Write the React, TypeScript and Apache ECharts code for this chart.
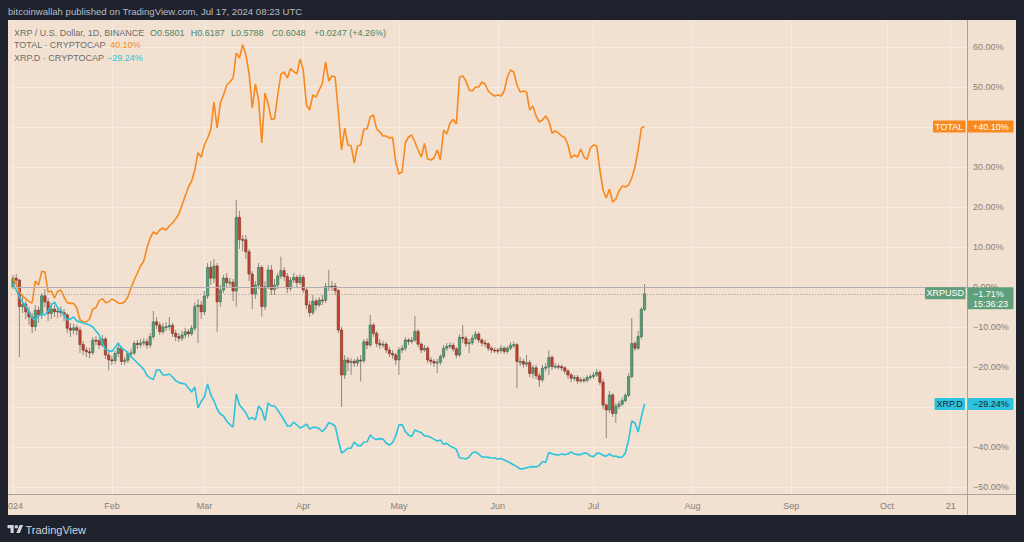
import React, { useEffect, useRef } from 'react';
import * as echarts from 'echarts';

// ---------- texts ----------
const headerText = 'bitcoinwallah published on TradingView.com, Jul 17, 2024 08:23 UTC';
const symbolTitle = 'XRP / U.S. Dollar, 1D, BINANCE';
const ohlcLabels = ['O0.5801', 'H0.6187', 'L0.5788', 'C0.6048', '+0.0247 (+4.26%)'];
const totalTitle = 'TOTAL \u00b7 CRYPTOCAP';
const domTitle = 'XRP.D \u00b7 CRYPTOCAP';
const totalTag = 'TOTAL';
const xrpTag = 'XRPUSD';
const domTag = 'XRP.D';
const countdown = '15:36:23';
const brand = 'TradingView';

// ---------- axes ----------
// day offsets from 2024-01-01
const xTickDays = [0, 31, 60, 91, 121, 152, 182, 213, 244, 274, 294];
const xTickLabels = ['2024', 'Feb', 'Mar', 'Apr', 'May', 'Jun', 'Jul', 'Aug', 'Sep', 'Oct', '21'];
const yTicks = [-50, -40, -30, -20, -10, 0, 10, 20, 30, 40, 50, 60];
// tick labels covered by the price tags on the right scale
const yHiddenLabels = [40, -30];

// ---------- XRPUSD daily candles (% change vs. first bar), Jan 1 -> Jul 17 2024 ----------
const xrpClose = [
  2.2, 1.7, -4.9, -4.3, -6.2, -7.5, -9.9, -5.8, -7.0, -2.2,
  -3.7, -6.6, -5.5, -6.2, -6.0, -6.4, -7.0, -10.3, -10.8, -10.2,
  -10.8, -14.4, -15.8, -16.2, -16.4, -13.3, -13.4, -14.5, -13.0, -17.0,
  -18.2, -18.4, -16.6, -15.3, -18.6, -18.3, -16.6, -16.5, -14.1, -14.4,
  -14.0, -13.7, -14.5, -12.4, -8.7, -9.5, -11.2, -10.0, -9.9, -9.6,
  -11.6, -12.4, -12.8, -12.0, -11.2, -11.7, -10.3, -4.9, -4.5, -6.2,
  -2.25, 4.9, 2.2, 5.25, -3.7, -0.75, 2.2, 1.1, 1.2, -1.0,
  17.4, 11.9, 11.8, 8.8, 3.25, -1.75, 0.5, 4.9, -4.9, 0.1,
  4.25, -0.6, 0.5, 2.75, 4.1, 2.6, -0.3, 1.75, 2.4, 1.1,
  2.4, -0.75, -4.5, -6.4, -3.5, -4.5, -3.25, -3.3, 0.1, 0.1,
  0.25, -0.9, -10.75, -22.0, -18.25, -18.9, -18.6, -19.0, -18.25, -18.4,
  -13.7, -14.5, -9.5, -11.6, -14.1, -14.5, -14.3, -15.75, -16.6, -17.0,
  -18.25, -15.75, -15.3, -13.25, -13.6, -13.25, -11.1, -14.3, -15.75, -15.3,
  -18.25, -18.6, -19.0, -18.8, -17.4, -15.3, -14.9, -14.6, -15.5, -17.0,
  -12.6, -12.8, -14.2, -13.9, -12.8, -11.75, -13.25, -14.0, -14.2, -15.3,
  -15.75, -15.8, -15.9, -15.3, -16.1, -15.3, -14.6, -14.4, -18.6, -18.6,
  -19.3, -18.9, -21.6, -20.2, -22.2, -23.2, -20.3, -20.0, -17.6, -19.9,
  -19.8, -19.9, -20.2, -21.0, -22.0, -22.8, -22.6, -23.5, -23.2, -23.3,
  -22.6, -22.4, -22.0, -21.3, -23.8, -29.5, -30.75, -27.0, -31.6, -29.8,
  -29.3, -28.4, -27.1, -22.4, -14.1, -15.3, -12.4, -5.6, -1.71,
];
const xrpHigh = [
  3.0, 3.2, 2.0, -2.5, -3.5, -5.0, -6.5, -4.5, -4.8, -1.5,
  -0.5, -2.8, -4.0, -4.5, -5.0, -4.8, -5.5, -6.5, -9.0, -9.2,
  -9.5, -10.0, -13.5, -15.0, -15.2, -12.5, -12.3, -12.8, -12.0, -12.5,
  -16.0, -17.2, -16.0, -14.5, -14.8, -17.5, -16.0, -15.5, -13.5, -13.2,
  -13.0, -12.8, -13.0, -11.5, -6.0, -7.5, -8.8, -9.0, -8.8, -7.5,
  -9.0, -10.8, -11.5, -11.0, -10.2, -10.5, -9.5, -3.8, -3.0, -3.5,
  -1.0, 6.0, 6.5, 7.0, 6.0, 0.5, 3.0, 3.5, 2.3, 2.0,
  21.8, 19.0, 13.0, 13.0, 9.5, 4.0, 1.5, 6.0, 5.5, 1.5,
  5.5, 5.5, 2.0, 3.5, 7.6, 5.0, 3.5, 2.5, 3.5, 3.0,
  3.2, 3.0, 0.0, -3.5, -2.0, -2.8, -2.5, -2.0, 1.0, 4.3,
  1.5, 1.0, -0.5, -10.0, -17.0, -17.5, -17.8, -18.0, -17.5, -17.0,
  -13.0, -12.8, -7.0, -9.0, -11.0, -13.0, -13.5, -13.8, -15.0, -15.8,
  -16.5, -15.0, -14.5, -12.5, -12.8, -12.5, -7.25, -10.5, -13.8, -14.5,
  -14.8, -17.5, -18.0, -18.0, -16.8, -14.5, -14.0, -13.8, -14.0, -15.0,
  -11.8, -9.5, -12.2, -13.0, -12.0, -11.0, -11.2, -12.8, -13.2, -13.8,
  -14.8, -15.0, -15.2, -14.5, -14.8, -14.8, -13.8, -13.6, -14.0, -17.5,
  -18.0, -17.0, -18.2, -19.5, -19.5, -21.5, -19.5, -19.0, -15.75, -17.0,
  -19.0, -19.2, -19.4, -19.8, -20.5, -21.5, -22.0, -22.0, -22.5, -22.6,
  -22.0, -21.8, -21.3, -20.5, -20.8, -23.0, -29.0, -26.0, -26.5, -29.0,
  -28.5, -27.6, -26.5, -21.5, -7.75, -13.5, -11.0, -5.0, 0.75,
];
const xrpLow = [
  -0.5, 0.8, -17.5, -6.5, -8.0, -9.5, -11.5, -11.0, -9.0, -8.0,
  -5.0, -8.5, -8.0, -7.5, -7.8, -7.5, -8.5, -11.5, -12.5, -11.8,
  -12.0, -16.5, -17.0, -17.5, -17.8, -17.0, -14.5, -15.5, -15.0, -18.0,
  -20.8, -19.5, -19.2, -17.5, -19.5, -19.5, -19.0, -17.8, -17.0, -15.5,
  -15.2, -14.8, -15.5, -15.2, -13.0, -10.5, -12.0, -11.8, -11.0, -10.8,
  -12.5, -13.5, -13.8, -13.5, -12.8, -12.5, -12.2, -11.0, -14.0, -8.0,
  -7.0, -3.0, 0.5, 1.0, -11.2, -5.0, -1.5, 0.0, 0.2, -3.5,
  -4.9, 9.5, 9.0, 7.0, 1.5, -5.5, -3.0, -0.5, -7.4, -5.8,
  -0.5, -2.0, -2.0, -0.5, 2.0, 1.5, -1.5, -1.0, 1.0, 0.0,
  0.5, -1.5, -5.5, -7.5, -7.0, -5.8, -5.0, -4.5, -4.0, -1.0,
  -1.0, -2.0, -11.5, -30.0, -23.0, -21.0, -22.0, -20.0, -19.8, -23.6,
  -19.0, -15.5, -15.0, -12.5, -15.0, -15.5, -15.2, -16.5, -17.5, -18.0,
  -19.5, -22.0, -16.5, -16.0, -14.5, -14.2, -13.8, -15.0, -16.5, -16.2,
  -19.0, -19.5, -20.0, -21.5, -19.5, -18.0, -16.0, -15.5, -16.2, -17.8,
  -17.5, -14.0, -15.0, -16.5, -14.5, -13.2, -14.0, -14.8, -15.0, -16.0,
  -16.5, -16.5, -16.8, -16.5, -16.8, -16.6, -15.8, -15.2, -25.3, -19.8,
  -20.2, -20.0, -22.5, -22.8, -23.0, -25.0, -23.8, -21.0, -22.0, -20.8,
  -20.5, -20.6, -21.0, -21.8, -23.0, -23.8, -23.5, -24.2, -24.0, -24.0,
  -23.8, -23.2, -23.0, -22.5, -24.5, -30.5, -37.75, -31.5, -32.5, -34.0,
  -30.5, -29.8, -28.8, -27.5, -22.8, -16.0, -15.8, -13.0, -6.0,
];

// ---------- TOTAL crypto market cap (% change) ----------
const totalPct = [
  2.25, 0.75, -1.25, -2.25, -3.0, -3.6, -4.0, 1.5, 0.5, 3.9,
  3.75, -1.25, -1.0, -2.75, -1.1, -0.75, -2.5, -3.9, -4.1, -4.1,
  -5.25, -8.25, -8.7, -8.75, -8.0, -5.5, -5.2, -3.4, -2.9, -3.9,
  -3.75, -3.0, -3.4, -4.0, -4.1, -3.75, -2.5, -0.25, 1.75, 3.5,
  5.25, 6.5, 9.75, 12.25, 13.75, 13.25, 14.25, 14.75, 14.25, 15.25,
  16.0, 17.0, 18.25, 20.5, 22.75, 25.0, 26.5, 29.25, 33.6, 32.4,
  35.5, 37.25, 39.25, 46.25, 39.75, 46.0, 48.0, 50.5, 51.25, 52.25,
  58.5, 57.25, 60.6, 58.0, 53.5, 44.75, 50.75, 46.75, 36.0, 48.5,
  45.75, 41.9, 42.1, 48.0, 53.25, 53.75, 52.25, 54.6, 53.9, 53.25,
  57.0, 54.25, 45.5, 44.25, 48.0, 47.5, 49.25, 50.9, 56.25, 51.5,
  52.75, 52.5, 43.75, 34.25, 39.7, 35.5, 35.25, 31.0, 35.25, 35.5,
  39.5, 39.5, 42.5, 43.0, 39.5, 38.8, 37.75, 37.75, 37.25, 37.4,
  31.25, 28.25, 28.75, 36.0, 37.5, 38.0, 36.25, 34.25, 32.5, 35.9,
  32.0, 31.75, 32.25, 34.25, 31.75, 39.25, 38.25, 41.0, 41.9, 40.75,
  52.5, 52.75, 51.5, 49.25, 49.0, 50.0, 50.0, 51.25, 50.75, 49.0,
  48.25, 47.75, 48.0, 47.75, 49.0, 52.5, 54.25, 53.75, 50.5, 48.75,
  49.0, 48.75, 44.25, 45.25, 42.75, 41.25, 41.75, 42.75, 41.5, 38.5,
  39.0, 38.5, 37.75, 37.4, 35.5, 32.25, 33.0, 32.5, 34.5, 32.5,
  31.9, 34.75, 35.5, 35.25, 29.25, 24.25, 22.25, 24.5, 21.25, 22.0,
  24.0, 25.25, 25.0, 25.5, 27.25, 30.0, 34.25, 39.75, 40.1,
];

// ---------- XRP dominance (% change) ----------
const xrpDomPct = [
  0.75, -0.75, -2.5, -3.75, -4.75, -6.25, -7.75, -8.25, -7.25, -6.75,
  -7.0, -6.0, -4.5, -3.75, -5.25, -5.75, -7.0, -8.25, -8.0, -7.5,
  -8.5, -8.75, -9.0, -9.25, -9.5, -10.0, -11.0, -12.0, -14.0, -15.6,
  -15.9, -16.1, -15.1, -14.0, -15.3, -15.75, -16.5, -17.4, -18.2, -19.0,
  -19.75, -20.6, -22.1, -22.75, -23.1, -20.75, -20.75, -22.0, -22.0, -21.75,
  -22.5, -23.4, -23.9, -24.1, -24.25, -25.25, -26.25, -25.0, -30.25, -28.6,
  -27.5, -24.25, -26.9, -28.5, -30.5, -31.75, -32.25, -33.5, -34.4, -35.0,
  -26.75, -29.5, -30.4, -31.5, -33.1, -32.6, -33.25, -29.75, -30.75, -33.4,
  -29.0, -29.75, -29.75, -30.75, -32.0, -33.25, -34.75, -34.75, -33.75, -34.5,
  -35.25, -34.9, -34.25, -35.5, -35.1, -35.1, -35.4, -36.2, -35.25, -33.9,
  -34.25, -34.75, -38.25, -41.5, -41.0, -40.3, -40.3, -38.75, -39.6, -39.75,
  -38.75, -38.7, -37.0, -37.8, -38.1, -37.9, -38.0, -39.0, -39.5, -38.9,
  -37.25, -34.5, -34.4, -36.1, -37.0, -37.4, -35.75, -36.1, -36.4, -37.25,
  -37.25, -37.6, -38.1, -38.5, -38.25, -39.3, -39.1, -39.75, -40.1, -40.6,
  -42.75, -42.8, -43.0, -42.5, -41.5, -41.2, -41.75, -42.5, -42.5, -42.6,
  -42.75, -42.75, -43.0, -42.9, -43.25, -43.6, -44.0, -44.5, -44.9, -45.5,
  -45.4, -45.2, -45.0, -44.9, -45.0, -44.6, -43.6, -43.9, -41.4, -41.7,
  -41.9, -42.0, -41.75, -41.9, -41.75, -41.2, -41.75, -41.9, -41.9, -41.5,
  -41.6, -42.25, -42.4, -41.6, -41.6, -42.1, -42.3, -41.75, -42.3, -42.25,
  -42.6, -42.5, -41.5, -38.25, -33.5, -34.0, -36.25, -32.5, -29.24,
];

// ---------- style ----------
const BG = '#f2e1d1';
const FRAME = '#1e222d';
const GRID = '#f7ece3';
const AXIS_SEP = '#a8a29e';
const AXIS_TEXT = '#858077';
const ORANGE = '#f7891f';
const CYAN = '#2cc3dc';
const UP = '#5a9e78';
const UP_B = '#2f6b4b';
const DOWN = '#c9422f';
const DOWN_B = '#7b2a1e';
const WICK = '#8d8881';
const FONT = '"Liberation Sans", Arial, sans-serif';

const TV_LOGO_PATH =
  'M14 22H7V11H0V4h14v18zM28 22h-8l7.5-18h8L28 22zM24 8a4 4 0 1 1-8 0a4 4 0 1 1 8 0z';
echarts.graphic.registerShape('tvlogo', echarts.graphic.extendPath(TV_LOGO_PATH, {}) as any);

const fmtPct = (v: number, plus = false) =>
  (v < 0 ? '\u2212' : plus && v > 0 ? '+' : '') + Math.abs(v).toFixed(2) + '%';

export default function App() {
  const ref = useRef<HTMLDivElement>(null);

  useEffect(() => {
    if (!ref.current) return;
    const chart = echarts.init(ref.current, null, { renderer: 'svg' });

    const candles = xrpClose.map((c, i) => [i, i === 0 ? 0 : xrpClose[i - 1], c, xrpLow[i], xrpHigh[i]]);
    const totalData = totalPct.map((v, i) => [i, v]);
    const domData = xrpDomPct.map((v, i) => [i, v]);
    const labelMap: Record<number, string> = {};
    xTickDays.forEach((d, i) => (labelMap[d] = xTickLabels[i]));
    const yLabelValues = yTicks.filter((v) => !yHiddenLabels.includes(v));

    chart.setOption({
      animation: false,
      backgroundColor: BG,
      grid: { left: 8, right: 57, top: 21, bottom: 48 },
      xAxis: {
        type: 'value',
        min: -0.55,
        max: 299.1,
        axisLine: { show: false },
        axisTick: { show: false, customValues: xTickDays },
        splitLine: { show: true, lineStyle: { color: GRID, width: 1 } },
        axisLabel: {
          customValues: xTickDays,
          formatter: (v: number) => labelMap[Math.round(v)] ?? '',
          color: AXIS_TEXT,
          fontSize: 9,
          fontFamily: FONT,
          margin: 7,
        },
      },
      yAxis: {
        type: 'value',
        position: 'right',
        min: -51.75,
        max: 66.5,
        axisLine: { show: false },
        axisTick: { show: false, customValues: yTicks },
        splitLine: { show: true, lineStyle: { color: GRID, width: 1 } },
        axisLabel: {
          customValues: yLabelValues,
          formatter: (v: number) => fmtPct(v),
          color: AXIS_TEXT,
          fontSize: 9,
          fontFamily: FONT,
          margin: 6,
        },
      },
      series: [
        {
          type: 'custom',
          name: 'XRPUSD',
          data: candles,
          encode: { x: 0, y: [1, 2, 3, 4] },
          z: 3,
          renderItem: (params: any, api: any) => {
            const d = api.value(0);
            const o = api.value(1);
            const c = api.value(2);
            const l = api.value(3);
            const h = api.value(4);
            const pO = api.coord([d, o]);
            const pC = api.coord([d, c]);
            const pL = api.coord([d, l]);
            const pH = api.coord([d, h]);
            const w = api.size([1, 0])[0] * 0.72;
            const up = c >= o;
            const top = Math.min(pO[1], pC[1]);
            const hh = Math.max(Math.abs(pO[1] - pC[1]), 1);
            return {
              type: 'group',
              children: [
                {
                  type: 'line',
                  shape: { x1: pH[0], y1: pH[1], x2: pL[0], y2: pL[1] },
                  style: { stroke: WICK, lineWidth: 1 },
                },
                {
                  type: 'rect',
                  shape: { x: pO[0] - w / 2, y: top, width: w, height: hh },
                  style: { fill: up ? UP : DOWN, stroke: up ? UP_B : DOWN_B, lineWidth: 0.6 },
                },
              ],
            };
          },
        },
        {
          type: 'line',
          name: 'TOTAL',
          data: totalData,
          showSymbol: false,
          symbol: 'none',
          z: 4,
          lineStyle: { color: ORANGE, width: 1.6 },
          markLine: {
            silent: true,
            symbol: ['none', 'none'],
            label: { show: false },
            data: [
              { yAxis: 0, lineStyle: { color: '#b4adb3', width: 1, type: 'solid' } },
              { yAxis: xrpClose[xrpClose.length - 1], lineStyle: { color: '#9c958e', width: 1, type: [1, 2] } },
            ],
          },
        },
        {
          type: 'line',
          name: 'XRP.D',
          data: domData,
          showSymbol: false,
          symbol: 'none',
          z: 4,
          lineStyle: { color: CYAN, width: 1.6 },
        },
      ],
    });

    const yOf = (v: number) => chart.convertToPixel({ yAxisIndex: 0 }, v) as number;
    const lastTotal = totalPct[totalPct.length - 1];
    const lastXrp = xrpClose[xrpClose.length - 1];
    const lastDom = xrpDomPct[xrpDomPct.length - 1];
    const yT = yOf(lastTotal);
    const yX = yOf(lastXrp);
    const yD = yOf(lastDom);

    const txt = (text: string, x: number, y: number, fill: string, size = 9, align = 'left', z = 60) => ({
      type: 'text',
      z,
      style: {
        text,
        x,
        y,
        fill,
        font: `${size}px ${FONT}`,
        textAlign: align,
        align,
        textVerticalAlign: 'middle',
        verticalAlign: 'middle',
      },
    });
    const box = (x: number, y: number, w: number, h: number, fill: string, z = 58) => ({
      type: 'rect',
      z,
      shape: { x, y, width: w, height: h, r: 1 },
      style: { fill },
    });

    const XRP_TAG = '#5f9f7b';
    const ohlcX = [150, 190.7, 231, 271.7, 314];

    const elements: any[] = [
      // dark frame
      { type: 'rect', z: 100, shape: { x: 0, y: 0, width: 1024, height: 20 }, style: { fill: FRAME } },
      { type: 'rect', z: 100, shape: { x: 0, y: 0, width: 8, height: 542 }, style: { fill: FRAME } },
      { type: 'rect', z: 100, shape: { x: 1016, y: 0, width: 8, height: 542 }, style: { fill: FRAME } },
      { type: 'rect', z: 100, shape: { x: 0, y: 515, width: 1024, height: 27 }, style: { fill: FRAME } },
      txt(headerText, 8, 11.5, '#b8bbc4', 9.6, 'left', 101),
      // TradingView logo
      {
        type: 'tvlogo',
        z: 101,
        x: 7.5,
        y: 523.3,
        scaleX: 0.44,
        scaleY: 0.44,
        style: { fill: '#d1d4dc' },
      },
      txt(brand, 25.5, 529.5, '#d1d4dc', 11, 'left', 101),
      // separators
      { type: 'line', z: 50, shape: { x1: 8, y1: 494.5, x2: 1016, y2: 494.5 }, style: { stroke: AXIS_SEP, lineWidth: 1 } },
      { type: 'line', z: 50, shape: { x1: 967.5, y1: 20, x2: 967.5, y2: 515 }, style: { stroke: AXIS_SEP, lineWidth: 1 } },
      // legend
      txt(symbolTitle, 14, 32.5, '#6e6c69'),
      ...ohlcLabels.map((t, i) => txt(t, ohlcX[i], 32.5, '#4f8463')),
      txt(totalTitle, 14, 45, '#6e6c69'),
      txt(fmtPct(lastTotal), 110, 45, ORANGE),
      txt(domTitle, 14, 58.3, '#6e6c69'),
      txt(fmtPct(lastDom), 107, 58.3, CYAN),
      // TOTAL tag
      box(933, yT - 6, 32.5, 12, ORANGE),
      txt(totalTag, 949.2, yT, '#ffffff', 9, 'center', 61),
      box(967.5, yT - 6, 46, 12, ORANGE),
      txt(fmtPct(lastTotal, true), 973, yT, '#ffffff', 9, 'left', 61),
      // XRPUSD tag
      box(925, yX - 6.5, 40.5, 12, XRP_TAG),
      txt(xrpTag, 945.2, yX - 0.5, '#ffffff', 9, 'center', 61),
      box(967.5, yX - 6.5, 46, 22, XRP_TAG),
      txt(fmtPct(lastXrp), 973, yX + 0.5, '#ffffff', 9, 'left', 61),
      txt(countdown, 973, yX + 10, '#ffffff', 9, 'left', 61),
      // XRP.D tag
      box(934.5, yD - 6, 30.5, 12, CYAN),
      txt(domTag, 949.7, yD, '#1e222d', 9, 'center', 61),
      box(967.5, yD - 6, 46, 12, CYAN),
      txt(fmtPct(lastDom), 973, yD, '#1e222d', 9, 'left', 61),
    ];

    chart.setOption({ graphic: { elements } });

    return () => chart.dispose();
  }, []);

  return <div ref={ref} style={{ position: 'fixed', left: 0, top: 0, width: 1024, height: 542 }} />;
}
